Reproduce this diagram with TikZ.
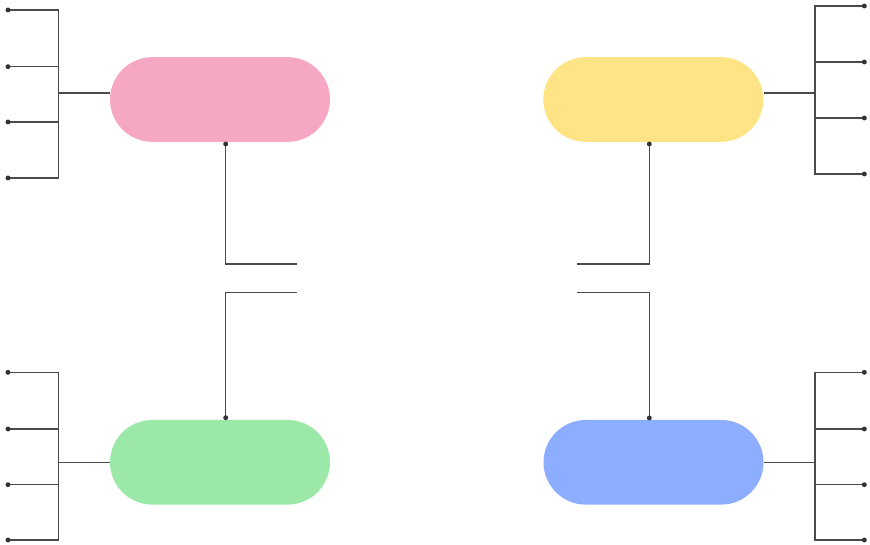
\documentclass[tikz,border=0pt]{standalone}
\usetikzlibrary{positioning}

\definecolor{pinkfill}{HTML}{F5A7C3}
\definecolor{yellowfill}{HTML}{FFE486}
\definecolor{greenfill}{HTML}{9CE8A9}
\definecolor{bluefill}{HTML}{8DADFF}
\definecolor{linegray}{HTML}{4A4A4A}
\definecolor{dotgray}{HTML}{333333}

\tikzset{
  pill/.style={rectangle, rounded corners=1.27cm, minimum width=6.6cm,
    minimum height=2.54cm, inner sep=0pt},
  wire/.style={draw=linegray, line width=1pt},
  enddot/.style={circle, fill=dotgray, inner sep=0pt, minimum size=4.2pt}
}

\begin{document}
\begin{tikzpicture}[x=0.03cm, y=-0.03cm]
    \useasboundingbox (0,0) rectangle (870,545);

  % Pills
    \node[pill, fill=pinkfill] (pink) at (220,99.5) {};
    \node[pill, fill=yellowfill] (yellow) at (653.3,99.5) {};
    \node[pill, fill=greenfill] (green) at (220,462.3) {};
    \node[pill, fill=bluefill] (blue) at (653.5,462.3) {};

  % Stubs towards the middle
    \coordinate (pinkstub) at (297,264);
    \coordinate (yellowstub) at (576.7,264);
    \coordinate (greenstub) at (297,292.3);
    \coordinate (bluestub) at (576.7,292.3);
    \coordinate (pinkdotc) at (225.7,144);
    \coordinate (yellowdotc) at (649.3,144);
    \coordinate (greendotc) at (225.7,417.7);
    \coordinate (bluedotc) at (649.3,418);

    \draw[wire] (pinkdotc) |- (pinkstub);
    \draw[wire] (yellowdotc) |- (yellowstub);
    \draw[wire] (greendotc) |- (greenstub);
    \draw[wire] (bluedotc) |- (bluestub);

    \node[enddot] (pinkdot) at (pinkdotc) {};
    \node[enddot] (yellowdot) at (yellowdotc) {};
    \node[enddot] (greendot) at (greendotc) {};
    \node[enddot] (bluedot) at (bluedotc) {};

  % Bracket of the pink pill
    \coordinate (pinkspine) at (58.7,93);
    \foreach \y [count=\i] in {10,66.7,122,178} {
        \coordinate (pl\i) at (8,\y);
    }
    \draw[wire] (pl1) -| (pinkspine) |- (pl4);
    \draw[wire] (pl2) -- (pl2 -| pinkspine);
    \draw[wire] (pl3) -- (pl3 -| pinkspine);
    \draw[wire] (pinkspine) -- (pinkspine -| pink.west);
    \foreach \i in {1,...,4} \node[enddot] at (pl\i) {};

  % Bracket of the yellow pill
    \coordinate (yellowspine) at (815,93);
    \foreach \y [count=\i] in {6,62,118,174} {
        \coordinate (yl\i) at (864.3,\y);
    }
    \draw[wire] (yl1) -| (yellowspine) |- (yl4);
    \draw[wire] (yl2) -- (yl2 -| yellowspine);
    \draw[wire] (yl3) -- (yl3 -| yellowspine);
    \draw[wire] (yellowspine) -- (yellowspine -| yellow.east);
    \foreach \i in {1,...,4} \node[enddot] at (yl\i) {};

  % Bracket of the green pill
    \coordinate (greenspine) at (58.7,462.7);
    \foreach \y [count=\i] in {372.3,429,484.7,540} {
        \coordinate (gl\i) at (8,\y);
    }
    \draw[wire] (gl1) -| (greenspine) |- (gl4);
    \draw[wire] (gl2) -- (gl2 -| greenspine);
    \draw[wire] (gl3) -- (gl3 -| greenspine);
    \draw[wire] (greenspine) -- (greenspine -| green.west);
    \foreach \i in {1,...,4} \node[enddot] at (gl\i) {};

  % Bracket of the blue pill
    \coordinate (bluespine) at (815,462.7);
    \foreach \y [count=\i] in {372.3,429,484.7,540} {
        \coordinate (bl\i) at (864.3,\y);
    }
    \draw[wire] (bl1) -| (bluespine) |- (bl4);
    \draw[wire] (bl2) -- (bl2 -| bluespine);
    \draw[wire] (bl3) -- (bl3 -| bluespine);
    \draw[wire] (bluespine) -- (bluespine -| blue.east);
    \foreach \i in {1,...,4} \node[enddot] at (bl\i) {};

\end{tikzpicture}
\end{document}
